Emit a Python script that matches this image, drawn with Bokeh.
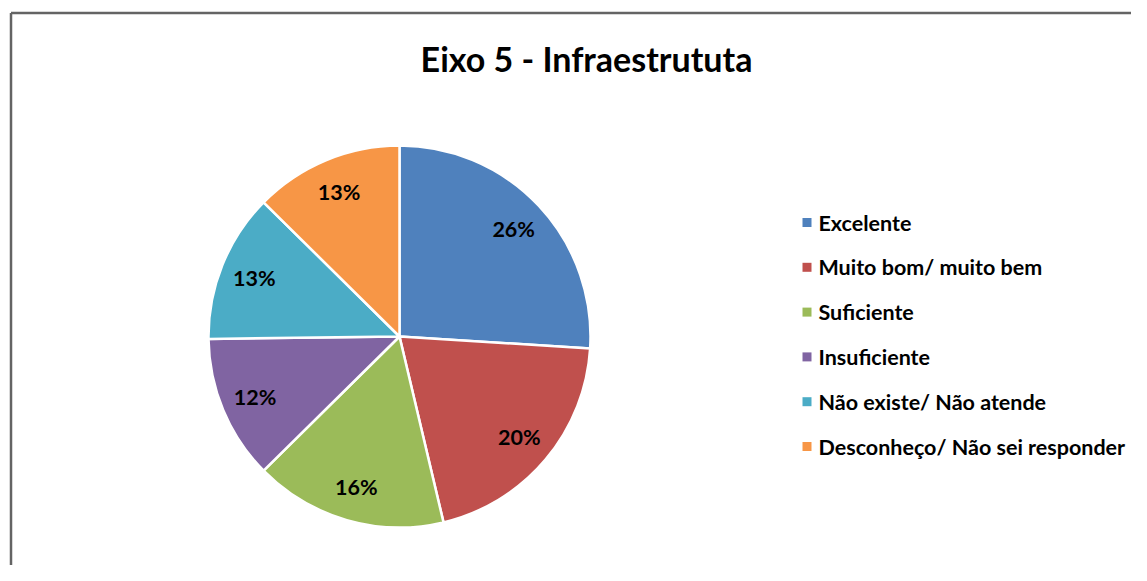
import math
from bokeh.plotting import figure
from bokeh.models import ColumnDataSource, Range1d
from bokeh.core.properties import value
from bokeh.embed import file_html
from bokeh.resources import INLINE

# ---- data ----
categories = ["Excelente", "Muito bom/ muito bem", "Suficiente", "Insuficiente",
              "Não existe/ Não atende", "Desconheço/ Não sei responder"]
shares = [26.0, 20.3, 16.3, 12.2, 12.6, 12.6]
colors = ["#4F81BD", "#C0504D", "#9BBB59", "#8064A2", "#4BACC6", "#F79646"]
title_text = "Eixo 5 - Infraestrututa"

W, H = 1131, 565
FONT = "Lato"

p = figure(width=W, height=H, output_backend="svg", toolbar_location=None,
           x_range=Range1d(0, W), y_range=Range1d(0, H),
           x_axis_type=None, y_axis_type=None, min_border=0,
           outline_line_color=None, background_fill_color="white",
           border_fill_color="white")
p.grid.visible = False

# chart-area border (left and top visible)
p.line([10.5, 10.5], [-10, 552.5], line_color="#646464", line_width=2.5)
p.line([10.5, W + 10], [552.5, 552.5], line_color="#646464", line_width=2.5)

# ---- pie ----
cx, cy, R = 399, 229, 191
total = sum(shares)
starts, ends, lx, ly, labels = [], [], [], [], []
cum = 0.0
for s in shares:
    a0 = math.pi / 2 - cum / total * 2 * math.pi
    cum += s
    a1 = math.pi / 2 - cum / total * 2 * math.pi
    starts.append(a0)
    ends.append(a1)
    mid = (a0 + a1) / 2
    lx.append(cx + 0.82 * R * math.cos(mid))
    ly.append(cy + 0.82 * R * math.sin(mid))
    labels.append(f"{round(s / total * 100)}%")

src = ColumnDataSource(dict(start=starts, end=ends, color=colors,
                            lx=lx, ly=ly, label=labels))
p.wedge(x=cx, y=cy, radius=R, start_angle="start", end_angle="end",
        direction="clock", fill_color="color", line_color="white",
        line_width=2.5, source=src)
p.text(x="lx", y="ly", text="label", source=src, text_font=value(FONT),
       text_font_style="bold", text_font_size="21.5px", text_color="black",
       text_align="center", text_baseline="middle")

# ---- title ----
p.text(x=[586], y=[507], text=[title_text], text_font=value(FONT),
       text_font_style="bold", text_font_size="34px", text_color="black",
       text_align="center", text_baseline="middle")

# ---- legend ----
ly0, dy = 343, 44.8
leg_y = [ly0 - i * dy for i in range(len(categories))]
leg = ColumnDataSource(dict(y=leg_y, name=categories, color=colors,
                            sx=[806.5] * len(categories), tx=[818] * len(categories)))
p.rect(x="sx", y="y", width=9, height=9, fill_color="color", line_color=None, source=leg)
p.text(x="tx", y="y", text="name", source=leg, text_font=value(FONT),
       text_font_style="bold", text_font_size="21.5px", text_color="black",
       text_align="left", text_baseline="middle")

open("out.html", "w").write(file_html(p, INLINE))
